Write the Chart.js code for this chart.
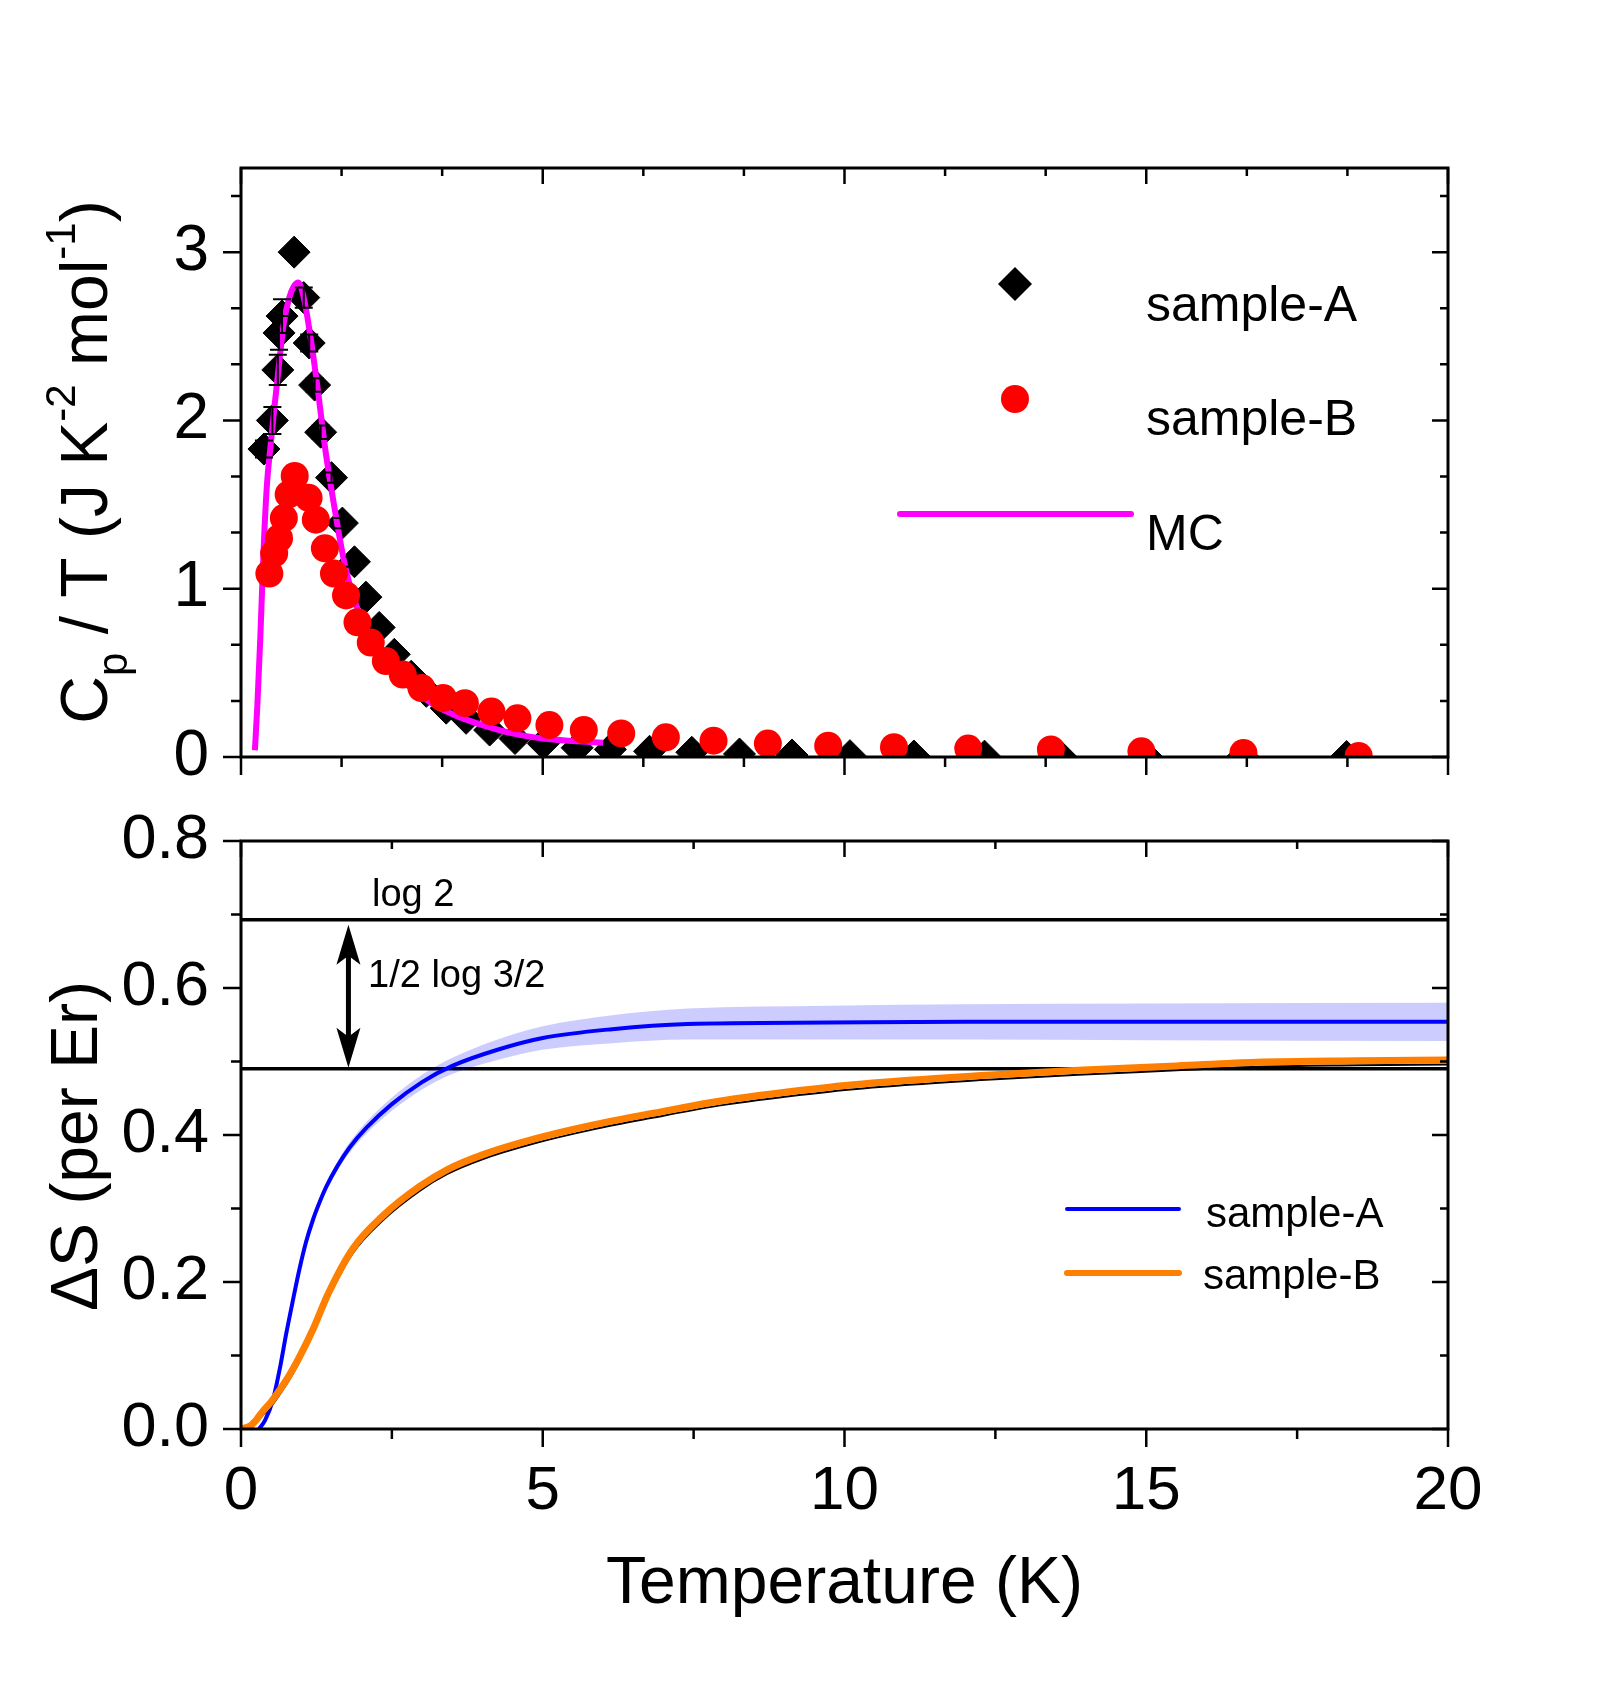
<!DOCTYPE html>
<html>
<head>
<meta charset="utf-8">
<script src="https://cdn.jsdelivr.net/npm/chart.js@4.4.1/dist/chart.umd.min.js"></script>
<style>
  html, body { margin: 0; padding: 0; background: #fff; }
  #wrap { position: relative; width: 1609px; height: 1682px; }
  canvas { position: absolute; left: 0; }
  #top { top: 0; }
  #bottom { top: 800px; }
</style>
</head>
<body>
<div id="wrap">
  <canvas id="top" width="1609" height="800"></canvas>
  <canvas id="bottom" width="1609" height="882"></canvas>
</div>
<script>
const FONT = '"Liberation Sans", Arial, Helvetica, sans-serif';

// ---- top panel: Cp/T ----
const tA = [0.38, 0.52, 0.61, 0.63, 0.68, 0.88, 1.04, 1.13, 1.22, 1.32, 1.50, 1.68, 1.88, 2.07, 2.29, 2.54, 2.82, 3.07, 3.40, 3.73, 4.12, 4.54, 5.01, 5.57, 6.12, 6.77, 7.47, 8.26, 9.13, 10.09, 11.15, 12.32, 13.58, 15.0, 16.6, 18.32];
const cA = [1.83, 2.00, 2.30, 2.52, 2.62, 3.00, 2.73, 2.46, 2.21, 1.93, 1.66, 1.39, 1.16, 0.95, 0.77, 0.61, 0.48, 0.39, 0.29, 0.23, 0.16, 0.11, 0.08, 0.055, 0.045, 0.034, 0.028, 0.018, 0.012, 0.008, 0.006, 0.005, 0.004, 0.004, 0.003, 0.003];
const errA = [0.05, 0.08, 0.09, 0.10, 0.10, 0, 0.06, 0.05, 0.04, 0.04, 0.03, 0.03, 0.03, 0.02, 0.02, 0, 0, 0, 0, 0, 0, 0, 0, 0, 0, 0, 0, 0, 0, 0, 0, 0, 0, 0, 0, 0];

const tB = [0.47, 0.55, 0.63, 0.71, 0.79, 0.89, 1.12, 1.24, 1.39, 1.54, 1.74, 1.93, 2.15, 2.40, 2.68, 2.99, 3.35, 3.71, 4.15, 4.58, 5.11, 5.68, 6.30, 7.04, 7.83, 8.73, 9.73, 10.82, 12.05, 13.42, 14.92, 16.61, 18.52];
const cB = [1.09, 1.21, 1.30, 1.42, 1.56, 1.67, 1.54, 1.41, 1.24, 1.09, 0.96, 0.80, 0.68, 0.57, 0.49, 0.41, 0.35, 0.32, 0.27, 0.23, 0.19, 0.16, 0.14, 0.117, 0.097, 0.08, 0.067, 0.058, 0.05, 0.045, 0.034, 0.024, 0.006];

const tMC = [0.23, 0.27, 0.32, 0.38, 0.43, 0.49, 0.56, 0.62, 0.71, 0.80, 0.88, 0.95, 1.04, 1.15, 1.27, 1.40, 1.54, 1.71, 1.88, 2.07, 2.30, 2.55, 2.85, 3.20, 3.60, 4.00, 4.50, 5.00, 5.50, 6.00];
const cMC = [0.04, 0.30, 0.71, 1.28, 1.62, 1.85, 2.10, 2.30, 2.58, 2.73, 2.80, 2.82, 2.73, 2.50, 2.19, 1.82, 1.50, 1.16, 0.93, 0.77, 0.62, 0.50, 0.40, 0.31, 0.24, 0.19, 0.14, 0.11, 0.095, 0.085];

// ---- bottom panel: entropy ----
const tSA = [0.3, 0.4, 0.53, 0.65, 0.75, 0.86, 0.97, 1.08, 1.19, 1.3, 1.41, 1.6, 1.8, 2.08, 2.5, 3.0, 3.5, 4.25, 5.0, 6.15, 7.4, 9.75, 12, 15, 20];
const sA   = [0, 0.012, 0.04, 0.085, 0.13, 0.175, 0.218, 0.255, 0.284, 0.308, 0.329, 0.358, 0.383, 0.41, 0.442, 0.472, 0.494, 0.516, 0.532, 0.544, 0.551, 0.553, 0.554, 0.554, 0.554];
const sAHi = [0, 0.013, 0.042, 0.087, 0.133, 0.178, 0.222, 0.259, 0.289, 0.313, 0.335, 0.364, 0.39, 0.418, 0.451, 0.482, 0.505, 0.53, 0.548, 0.563, 0.572, 0.576, 0.578, 0.579, 0.58];
const sALo = [0, 0.011, 0.038, 0.083, 0.127, 0.172, 0.214, 0.251, 0.279, 0.303, 0.323, 0.352, 0.376, 0.402, 0.433, 0.462, 0.483, 0.502, 0.516, 0.525, 0.53, 0.53, 0.53, 0.529, 0.528];

const tSB = [0, 0.15, 0.25, 0.36, 0.5, 0.64, 0.8, 0.95, 1.19, 1.45, 1.85, 2.35, 2.96, 3.42, 4.0, 4.88, 5.8, 6.79, 8.0, 9.75, 11, 12.5, 13.87, 15.5, 16.83, 18.5, 20];
const sB    = [0, 0.004, 0.012, 0.024, 0.037, 0.053, 0.073, 0.095, 0.135, 0.185, 0.245, 0.29, 0.33, 0.353, 0.373, 0.395, 0.413, 0.429, 0.447, 0.465, 0.474, 0.482, 0.488, 0.494, 0.499, 0.501, 0.502];
const sBFit = [0, 0.003, 0.009, 0.019, 0.031, 0.047, 0.067, 0.089, 0.129, 0.179, 0.239, 0.284, 0.324, 0.347, 0.367, 0.389, 0.407, 0.423, 0.441, 0.459, 0.468, 0.476, 0.482, 0.488, 0.493, 0.495, 0.496];

const levels = [0.693, 0.490];          // log 2 and log 2 - 1/2 log 3/2
const levelLabels = ['log 2', '1/2 log 3/2'];
const arrowT = 1.78;

function pts(xs, ys) {
    return xs.map((x, i) => ({ x: x, y: ys[i] }));
}

Chart.defaults.font.family = FONT;
Chart.defaults.color = '#000';

// fix an axis box to an exact size and drop the label overhang padding
function fixSize(prop, value) {
    return s => {
        s[prop] = value;
        s.paddingTop = 0; s.paddingBottom = 0; s.paddingLeft = 0; s.paddingRight = 0;
    };
}

// frame with Origin-like ticks: out on left/bottom, in on top/right
function frameTicks(cfg) {
    return {
        id: 'frameTicks',
        afterDraw(chart) {
            const ctx = chart.ctx, a = chart.chartArea;
            const xs = chart.scales.x, ys = chart.scales.y;
            ctx.save();
            ctx.strokeStyle = '#000';
            ctx.lineWidth = 2.5;
            ctx.beginPath();
            for (let i = 0; i <= cfg.xCount; i++) {
                const px = xs.getPixelForValue(i * cfg.xStep);
                const len = i % cfg.xEvery === 0 ? 18 : 10;
                ctx.moveTo(px, a.bottom); ctx.lineTo(px, a.bottom + len);
                ctx.moveTo(px, a.top); ctx.lineTo(px, a.top + len - 2);
            }
            for (let i = 0; i <= cfg.yCount; i++) {
                const py = ys.getPixelForValue(i * cfg.yStep);
                const len = i % cfg.yEvery === 0 ? 18 : 10;
                ctx.moveTo(a.left, py); ctx.lineTo(a.left - len, py);
                ctx.moveTo(a.right, py); ctx.lineTo(a.right - len + 2, py);
            }
            ctx.stroke();
            ctx.lineWidth = 3;
            ctx.strokeRect(a.left, a.top, a.right - a.left, a.bottom - a.top);
            ctx.restore();
        }
    };
}

// rotated axis title made of runs: [text, 'n'|'sub'|'sup']
function drawRotatedTitle(ctx, runs, baseX, centerY, size) {
    const small = Math.round(size * 0.64);
    ctx.save();
    ctx.translate(baseX, centerY);
    ctx.rotate(-Math.PI / 2);
    ctx.fillStyle = '#000';
    ctx.textBaseline = 'alphabetic';
    ctx.textAlign = 'left';
    let total = 0;
    runs.forEach(r => {
        ctx.font = (r[1] === 'n' ? size : small) + 'px ' + FONT;
        total += ctx.measureText(r[0]).width;
    });
    let x = -total / 2;
    runs.forEach(r => {
        ctx.font = (r[1] === 'n' ? size : small) + 'px ' + FONT;
        const dy = r[1] === 'sub' ? size * 0.31 : (r[1] === 'sup' ? -size * 0.48 : 0);
        ctx.fillText(r[0], x, dy);
        x += ctx.measureText(r[0]).width;
    });
    ctx.restore();
}

const topDecor = {
    id: 'topDecor',
    afterDatasetDraw(chart, args) {
        if (args.index !== 1) return;
        // error bars of sample-A, drawn over the MC line
        const ctx = chart.ctx, xs = chart.scales.x, ys = chart.scales.y;
        ctx.save();
        ctx.strokeStyle = '#000';
        ctx.lineWidth = 2;
        ctx.beginPath();
        tA.forEach((t, i) => {
            if (!errA[i]) return;
            const px = xs.getPixelForValue(t);
            const y1 = ys.getPixelForValue(cA[i] + errA[i]);
            const y2 = ys.getPixelForValue(cA[i] - errA[i]);
            ctx.moveTo(px, y1); ctx.lineTo(px, y2);
            ctx.moveTo(px - 9, y1); ctx.lineTo(px + 9, y1);
            ctx.moveTo(px - 9, y2); ctx.lineTo(px + 9, y2);
        });
        ctx.stroke();
        ctx.restore();
    },
    afterDraw(chart) {
        const ctx = chart.ctx;
        ctx.save();
        // legend
        ctx.fillStyle = '#000';
        ctx.beginPath();
        ctx.moveTo(1015 - 17, 284); ctx.lineTo(1015, 284 - 17);
        ctx.lineTo(1015 + 17, 284); ctx.lineTo(1015, 284 + 17);
        ctx.closePath(); ctx.fill();
        ctx.fillStyle = '#ff0000';
        ctx.beginPath(); ctx.arc(1015, 399, 14, 0, Math.PI * 2); ctx.fill();
        ctx.strokeStyle = '#ff00ff';
        ctx.lineWidth = 6; ctx.lineCap = 'round';
        ctx.beginPath(); ctx.moveTo(900, 514); ctx.lineTo(1131, 514); ctx.stroke();
        ctx.fillStyle = '#000';
        ctx.font = '50px ' + FONT;
        ctx.textBaseline = 'alphabetic';
        ctx.fillText('sample-A', 1146, 321);
        ctx.fillText('sample-B', 1146, 435);
        ctx.fillText('MC', 1146, 550);
        ctx.restore();
        drawRotatedTitle(ctx, [['C', 'n'], ['p', 'sub'], [' / T (J K', 'n'], ['-2', 'sup'], [' mol', 'n'], ['-1', 'sup'], [')', 'n']], 107, 462, 66);
    }
};

new Chart(document.getElementById('top'), {
    type: 'line',
    data: {
        datasets: [
            { label: 'sample-B', data: pts(tB, cB), showLine: false, pointStyle: 'circle', pointRadius: 14, backgroundColor: '#ff0000', borderColor: '#ff0000', borderWidth: 0, order: 0, clip: 0 },
            { label: 'MC', data: pts(tMC, cMC), borderColor: '#ff00ff', borderWidth: 6, pointRadius: 0, cubicInterpolationMode: 'monotone', fill: false, order: 1, clip: 0 },
            { label: 'sample-A', data: pts(tA, cA), showLine: false, pointStyle: 'rectRot', pointRadius: 16, backgroundColor: '#000', borderColor: '#000', borderWidth: 1, order: 2, clip: 0 }
        ]
    },
    options: {
        responsive: false,
        animation: false,
        events: [],
        layout: { padding: { top: 168, right: 161, left: 0, bottom: 0 } },
        plugins: { legend: { display: false }, tooltip: { enabled: false } },
        scales: {
            x: {
                type: 'linear', min: 0, max: 20,
                grid: { display: false }, border: { display: false },
                ticks: { display: false },
                afterFit: fixSize('height', 43)
            },
            y: {
                type: 'linear', min: 0, max: 3.5,
                grid: { display: false }, border: { display: false },
                ticks: { stepSize: 1, padding: 24, color: '#000', font: { size: 64 },
                    callback: v => Number.isInteger(v) ? String(v) : '' },
                afterFit: fixSize('width', 241)
            }
        }
    },
    plugins: [topDecor, frameTicks({ xStep: 5 / 3, xCount: 12, xEvery: 3, yStep: 1 / 3, yCount: 10, yEvery: 3 })]
});

const bottomDecor = {
    id: 'bottomDecor',
    afterDraw(chart) {
        const ctx = chart.ctx, xs = chart.scales.x, ys = chart.scales.y;
        ctx.save();
        // labels of the two levels
        ctx.fillStyle = '#000';
        ctx.font = '38px ' + FONT;
        ctx.textBaseline = 'alphabetic';
        ctx.fillText(levelLabels[0], 372, 106);
        ctx.fillText(levelLabels[1], 368, 187);
        // double arrow between the levels
        const ax = xs.getPixelForValue(arrowT);
        const yTop = ys.getPixelForValue(levels[0]) + 5;
        const yBot = ys.getPixelForValue(levels[1]) - 1;
        ctx.strokeStyle = '#000';
        ctx.lineWidth = 5;
        ctx.beginPath(); ctx.moveTo(ax, yTop + 25); ctx.lineTo(ax, yBot - 25); ctx.stroke();
        [[yTop, 1], [yBot, -1]].forEach(([tip, d]) => {
            ctx.beginPath();
            ctx.moveTo(ax, tip);
            ctx.lineTo(ax + 12, tip + d * 40);
            ctx.lineTo(ax, tip + d * 31);
            ctx.lineTo(ax - 12, tip + d * 40);
            ctx.closePath();
            ctx.fill();
        });
        // legend
        ctx.lineCap = 'round';
        ctx.strokeStyle = '#0000ff'; ctx.lineWidth = 4;
        ctx.beginPath(); ctx.moveTo(1067, 409); ctx.lineTo(1179, 409); ctx.stroke();
        ctx.strokeStyle = '#ff7f00'; ctx.lineWidth = 6;
        ctx.beginPath(); ctx.moveTo(1067, 473); ctx.lineTo(1179, 473); ctx.stroke();
        ctx.font = '42px ' + FONT;
        ctx.fillText('sample-A', 1206, 427);
        ctx.fillText('sample-B', 1203, 489);
        ctx.restore();
        drawRotatedTitle(ctx, [['\u0394S (per Er)', 'n']], 97, 346, 66);
    }
};

new Chart(document.getElementById('bottom'), {
    type: 'line',
    data: {
        datasets: [
            { data: pts([0, 20], [levels[0], levels[0]]), borderColor: '#000', borderWidth: 3.5, pointRadius: 0, fill: false, order: 10, clip: 0 },
            { data: pts([0, 20], [levels[1], levels[1]]), borderColor: '#000', borderWidth: 3.5, pointRadius: 0, fill: false, order: 9, clip: 0 },
            { data: pts(tSA, sAHi), borderWidth: 0, borderColor: 'rgba(0,0,0,0)', backgroundColor: 'rgba(0,0,255,0.2)', pointRadius: 0, fill: '+1', cubicInterpolationMode: 'monotone', order: 8, clip: 0 },
            { data: pts(tSA, sALo), borderWidth: 0, borderColor: 'rgba(0,0,0,0)', pointRadius: 0, fill: false, cubicInterpolationMode: 'monotone', order: 7, clip: 0 },
            { label: 'sample-A', data: pts(tSA, sA), borderColor: '#0000ff', borderWidth: 4, pointRadius: 0, fill: false, cubicInterpolationMode: 'monotone', order: 6, clip: 0 },
            { data: pts(tSB, sBFit), borderColor: '#000', borderWidth: 2, pointRadius: 0, fill: false, cubicInterpolationMode: 'monotone', order: 5, clip: 0 },
            { label: 'sample-B', data: pts(tSB, sB), borderColor: '#ff7f00', borderWidth: 7, pointRadius: 0, fill: false, cubicInterpolationMode: 'monotone', order: 4, clip: 0 }
        ]
    },
    options: {
        responsive: false,
        animation: false,
        events: [],
        layout: { padding: { top: 41, right: 161, left: 0, bottom: 0 } },
        plugins: { legend: { display: false }, tooltip: { enabled: false } },
        scales: {
            x: {
                type: 'linear', min: 0, max: 20,
                grid: { display: false }, border: { display: false },
                ticks: { stepSize: 5, padding: 18, color: '#000', font: { size: 62 }, maxRotation: 0,
                    callback: v => String(v) },
                title: { display: true, text: 'Temperature (K)', color: '#000', font: { size: 66 }, padding: { top: 0, bottom: 58 } },
                afterFit: fixSize('height', 253)
            },
            y: {
                type: 'linear', min: 0, max: 0.8,
                grid: { display: false }, border: { display: false },
                ticks: { stepSize: 0.2, padding: 24, color: '#000', font: { size: 63 },
                    callback: v => v.toFixed(1) },
                afterFit: fixSize('width', 241)
            }
        }
    },
    plugins: [bottomDecor, frameTicks({ xStep: 2.5, xCount: 8, xEvery: 2, yStep: 0.1, yCount: 8, yEvery: 2 })]
});
</script>
</body>
</html>
